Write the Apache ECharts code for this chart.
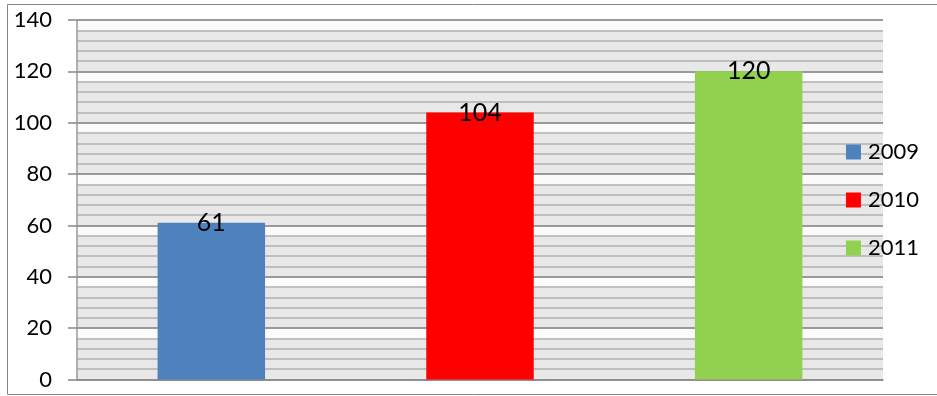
<!DOCTYPE html>
<html><head><meta charset="utf-8">
<script src="https://cdn.jsdelivr.net/npm/echarts@6/dist/echarts.min.js"></script>
<style>html,body{margin:0;padding:0;background:#fff}#c{width:937px;height:396px}</style>
</head><body><div id="c"></div>
<script>
const categories = ['2009', '2010', '2011'];
const values = [61, 104, 120];
const colors = ['#4f81bd', '#ff0000', '#92d050'];
const yTicks = [0, 20, 40, 60, 80, 100, 120, 140];
const minorStep = 4;

const FONT = 'Lato';
const chart = echarts.init(document.getElementById('c'), null, {renderer: 'canvas'});

const series = categories.map((name, i) => ({
  name: name,
  type: 'bar',
  stack: 'all',
  barWidth: '40%',
  itemStyle: {color: colors[i]},
  data: categories.map((c, j) => j === i ? values[i] : '-'),
  label: {
    show: true, position: 'top', distance: -13,
    color: '#000', fontFamily: FONT, fontSize: 25, lineHeight: 26
  },
  z: 5
}));

// white bands just below every major gridline
series.push({
  type: 'line', name: '_bands', data: [], z: 1, silent: true, symbol: 'none',
  markArea: {
    silent: true,
    itemStyle: {color: '#fbfbfb'},
    label: {show: false},
    data: yTicks.filter(v => v > 0).map(v => [{yAxis: v - minorStep}, {yAxis: v}])
  }
});

chart.setOption({
  animation: false,
  textStyle: {fontFamily: FONT},
  graphic: [{
    type: 'rect', silent: true, z: -10,
    shape: {x: 7.5, y: 4.5, width: 940, height: 390},
    style: {fill: 'none', stroke: '#868686', lineWidth: 1}
  }],
  grid: {left: 77, top: 20, right: 54, bottom: 16.5, show: true, backgroundColor: '#e8e8e8', borderWidth: 0},
  legend: {
    orient: 'vertical', right: 18, top: 141, padding: 0,
    itemWidth: 15, itemHeight: 15, itemGap: 26,
    icon: 'rect',
    textStyle: {fontFamily: FONT, fontSize: 22, lineHeight: 22, color: '#000', padding: [0, 0, 0, 2]},
    data: categories
  },
  xAxis: {
    type: 'category', data: categories, z: 3,
    axisLine: {show: true, lineStyle: {color: '#868686', width: 1.5}},
    axisTick: {show: false}, axisLabel: {show: false}
  },
  yAxis: [{
    type: 'value', min: 0, max: 140, interval: 20, z: 4,
    axisLine: {show: true, lineStyle: {color: '#9a9a9a', width: 1.5}},
    axisTick: {show: true, inside: false, length: 9, lineStyle: {color: '#868686', width: 1.5}},
    axisLabel: {color: '#000', fontFamily: FONT, fontSize: 22, margin: 25},
    splitLine: {show: true, lineStyle: {color: '#8c8c8c', width: 1.5}}
  }, {
    type: 'value', min: 0, max: 140, interval: minorStep, z: 3, position: 'left',
    axisLine: {show: false}, axisTick: {show: false}, axisLabel: {show: false},
    splitLine: {show: true, lineStyle: {color: '#b0b0b0', width: 1.5}}
  }],
  series: series
});
</script></body></html>
